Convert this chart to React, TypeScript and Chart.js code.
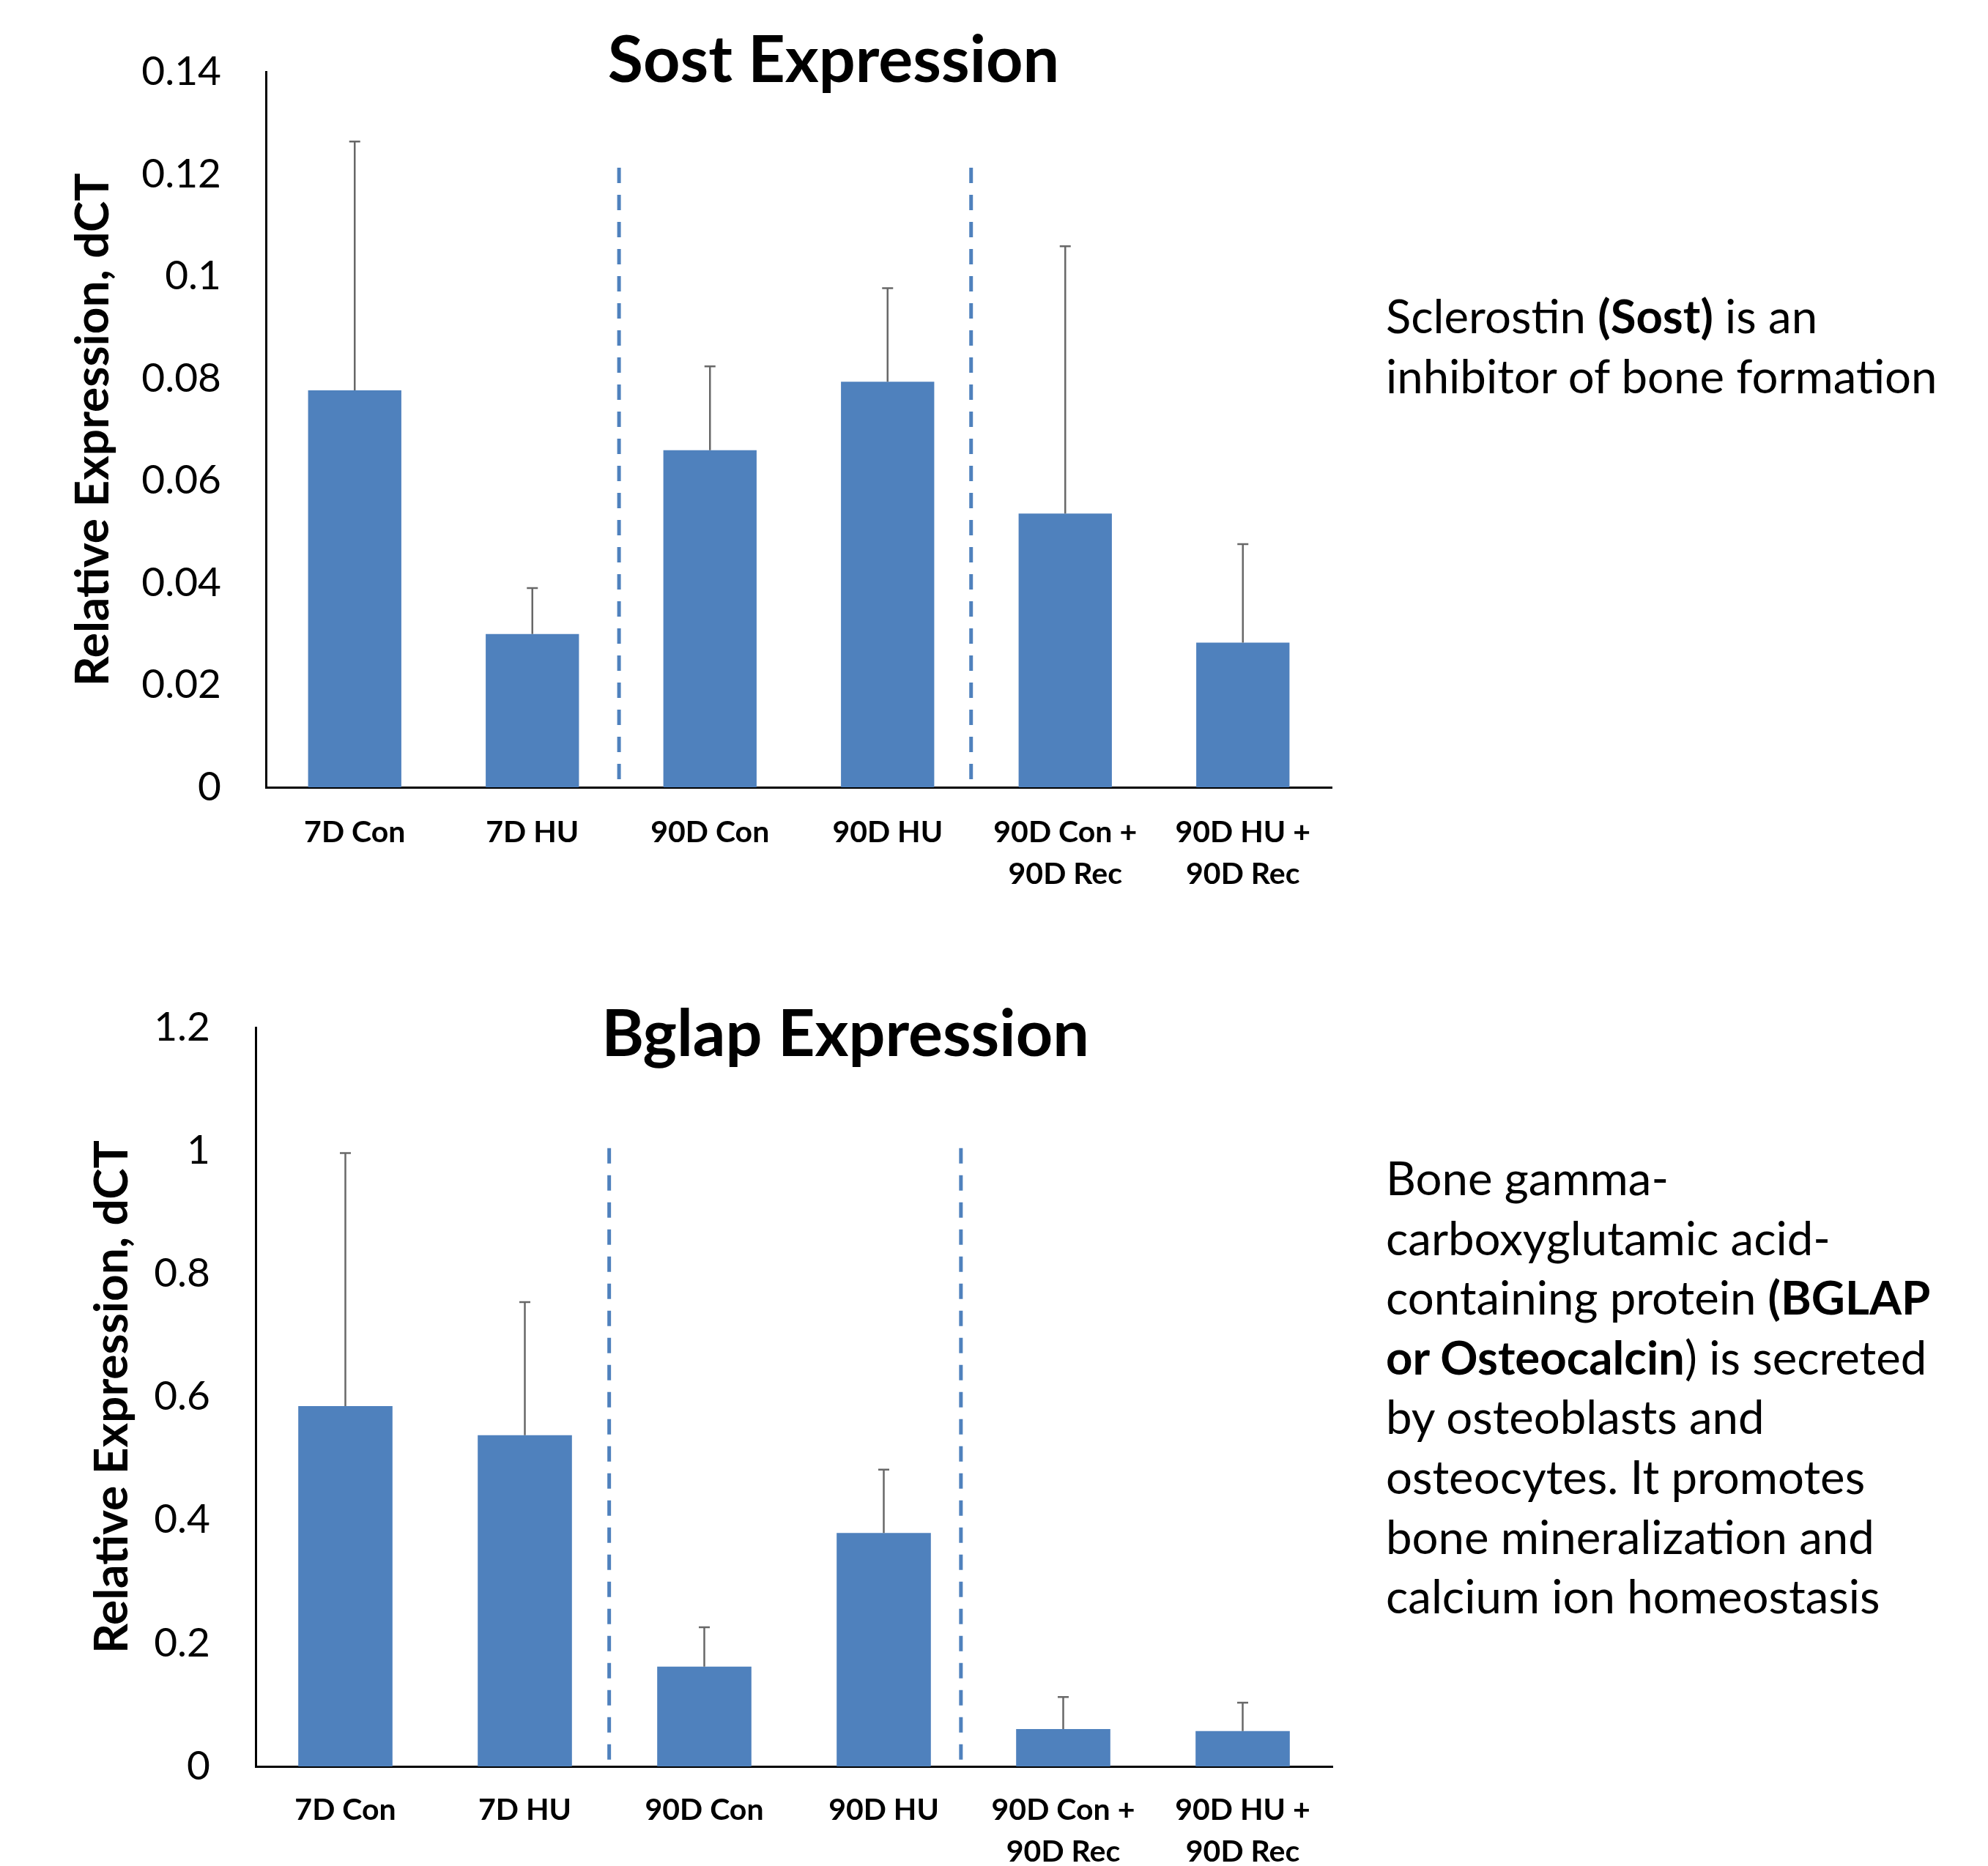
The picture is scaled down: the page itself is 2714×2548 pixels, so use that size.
import React, { useEffect, useRef } from 'react';
import { Chart, registerables } from 'chart.js';

Chart.register(...registerables);
Chart.defaults.font.family = 'Lato';

// ---------- data ----------
const categories: string[][] = [
  ['7D Con'],
  ['7D HU'],
  ['90D Con'],
  ['90D HU'],
  ['90D Con +', '90D Rec'],
  ['90D HU +', '90D Rec'],
];

const sostValues = [0.0777, 0.03, 0.066, 0.0794, 0.0536, 0.0283];
const sostErrors = [0.0487, 0.009, 0.0164, 0.0183, 0.0523, 0.0193];
const sostTicks = [0, 0.02, 0.04, 0.06, 0.08, 0.1, 0.12, 0.14];
const sostDividers = [1.488, 3.47];
const sostDividerTop = 0.1213;

const bglapValues = [0.585, 0.538, 0.162, 0.379, 0.0606, 0.0574];
const bglapErrors = [0.411, 0.216, 0.064, 0.103, 0.052, 0.046];
const bglapTicks = [0, 0.2, 0.4, 0.6, 0.8, 1, 1.2];
const bglapDividers = [1.47, 3.43];
const bglapDividerTop = 1.004;

const yTitle = 'Relative Expression, dCT';

// ---------- plugin: error bars + dashed dividers ----------
const extrasPlugin = {
  id: 'extras',
  afterDatasetsDraw(chart: any, _args: any, opts: any) {
    const { ctx } = chart;
    const x = chart.scales.x;
    const y = chart.scales.y;
    const meta = chart.getDatasetMeta(0);
    const data = chart.data.datasets[0].data as number[];
    ctx.save();
    ctx.strokeStyle = '#4F81BD';
    ctx.lineWidth = 5;
    ctx.setLineDash([21, 16]);
    (opts.dividers as number[]).forEach((d) => {
      const px = x.getPixelForValue(d);
      ctx.beginPath();
      ctx.moveTo(px, y.getPixelForValue(opts.dividerTop));
      ctx.lineTo(px, y.getPixelForValue(0));
      ctx.stroke();
    });
    ctx.setLineDash([]);
    ctx.strokeStyle = '#686868';
    ctx.lineWidth = 2.5;
    (opts.errors as number[]).forEach((e, i) => {
      const v = data[i];
      const px = meta.data[i].x;
      const y0 = y.getPixelForValue(v);
      const y1 = y.getPixelForValue(v + e);
      ctx.beginPath();
      ctx.moveTo(px, y0);
      ctx.lineTo(px, y1);
      ctx.moveTo(px - 7.5, y1);
      ctx.lineTo(px + 7.5, y1);
      ctx.stroke();
    });
    ctx.restore();
  },
};

type Area = { left: number; right: number; top: number; bottom: number };

function BarChart(props: {
  top: number;
  width: number;
  height: number;
  area: Area;
  values: number[];
  errors: number[];
  ticks: number[];
  max: number;
  dividers: number[];
  dividerTop: number;
  titlePad: number;
  tickPad: number;
  labelPad: number;
}) {
  const ref = useRef<HTMLCanvasElement>(null);
  useEffect(() => {
    const p = props;
    const chart = new Chart(ref.current as HTMLCanvasElement, {
      type: 'bar',
      data: {
        labels: categories,
        datasets: [
          {
            data: p.values,
            backgroundColor: '#4F81BD',
            borderWidth: 0,
            barPercentage: 0.525,
            categoryPercentage: 1,
          },
        ],
      },
      options: {
        animation: false,
        responsive: false,
        maintainAspectRatio: false,
        layout: {
          padding: { top: p.area.top, right: p.width - p.area.right, left: 0, bottom: 0 },
        },
        plugins: {
          legend: { display: false },
          tooltip: { enabled: false },
          // @ts-ignore
          extras: { errors: p.errors, dividers: p.dividers, dividerTop: p.dividerTop },
        },
        scales: {
          x: {
            grid: { display: false, drawTicks: false },
            border: { display: true, color: '#000', width: 3 },
            ticks: {
              color: '#000',
              padding: p.labelPad,
              autoSkip: false,
              maxRotation: 0,
              minRotation: 0,
              font: { family: 'Lato', weight: 'bold', size: 41, lineHeight: 1.39 },
            },
            afterFit: (s: any) => {
              s.height = p.height - p.area.bottom;
            },
          },
          y: {
            min: 0,
            max: p.max,
            grid: { display: false, drawTicks: false },
            border: { display: true, color: '#000', width: 3 },
            ticks: {
              color: '#000',
              padding: p.tickPad,
              font: { family: 'Lato', size: 55 },
              callback: (v: any) => Number(Number(v).toFixed(2)).toString(),
            },
            afterBuildTicks: (s: any) => {
              s.ticks = p.ticks.map((v) => ({ value: v }));
            },
            afterFit: (s: any) => {
              s.width = p.area.left;
            },
            title: {
              display: true,
              text: yTitle,
              color: '#000',
              font: { family: 'Lato', weight: 'bold', size: 64, lineHeight: 1.2 },
              padding: { top: p.titlePad, bottom: 0 },
            },
          },
        },
      },
      plugins: [extrasPlugin],
    });
    return () => chart.destroy();
  }, []);
  return (
    <canvas
      ref={ref}
      width={props.width}
      height={props.height}
      style={{ position: 'absolute', left: 0, top: props.top, width: props.width, height: props.height }}
    />
  );
}

const titleStyle = (center: number, top: number): React.CSSProperties => ({
  position: 'absolute',
  left: center - 600,
  width: 1200,
  top,
  textAlign: 'center',
  fontFamily: 'Lato',
  fontWeight: 'bold',
  fontSize: 88,
  lineHeight: '88px',
  color: '#000',
  whiteSpace: 'nowrap',
});

const noteStyle = (top: number, lh: number): React.CSSProperties => ({
  position: 'absolute',
  left: 1892,
  top,
  fontFamily: 'Lato',
  fontSize: 63.5,
  lineHeight: `${lh}px`,
  color: '#000',
  whiteSpace: 'nowrap',
});

export default function App() {
  return (
    <div
      style={{
        position: 'absolute',
        left: 0,
        top: 0,
        width: 2714,
        height: 2548,
        background: '#fff',
        overflow: 'hidden',
      }}
    >
      <BarChart
        top={0}
        width={1900}
        height={1240}
        area={{ left: 363, right: 1818, top: 98.5, bottom: 1075 }}
        values={sostValues}
        errors={sostErrors}
        ticks={sostTicks}
        max={0.14}
        dividers={sostDividers}
        dividerTop={sostDividerTop}
        titlePad={89}
        tickPad={61}
        labelPad={33}
      />
      <BarChart
        top={1240}
        width={1900}
        height={1308}
        area={{ left: 349, right: 1819, top: 163, bottom: 1172 }}
        values={bglapValues}
        errors={bglapErrors}
        ticks={bglapTicks}
        max={1.2}
        dividers={bglapDividers}
        dividerTop={bglapDividerTop}
        titlePad={115}
        tickPad={62}
        labelPad={31}
      />
      <div style={titleStyle(1138, 34)}>Sost Expression</div>
      <div style={titleStyle(1154, 1364)}>Bglap Expression</div>
      <div style={noteStyle(390, 82)}>
        <div>
          Sclerostin <b>(Sost)</b> is an
        </div>
        <div>inhibitor of bone formation</div>
      </div>
      <div style={noteStyle(1567, 81.6)}>
        <div>Bone gamma-</div>
        <div>carboxyglutamic acid-</div>
        <div>
          containing protein <b>(BGLAP</b>
        </div>
        <div>
          <b>or Osteocalcin</b>) is secreted
        </div>
        <div>by osteoblasts and</div>
        <div>osteocytes. It promotes</div>
        <div>bone mineralization and</div>
        <div>calcium ion homeostasis</div>
      </div>
    </div>
  );
}
